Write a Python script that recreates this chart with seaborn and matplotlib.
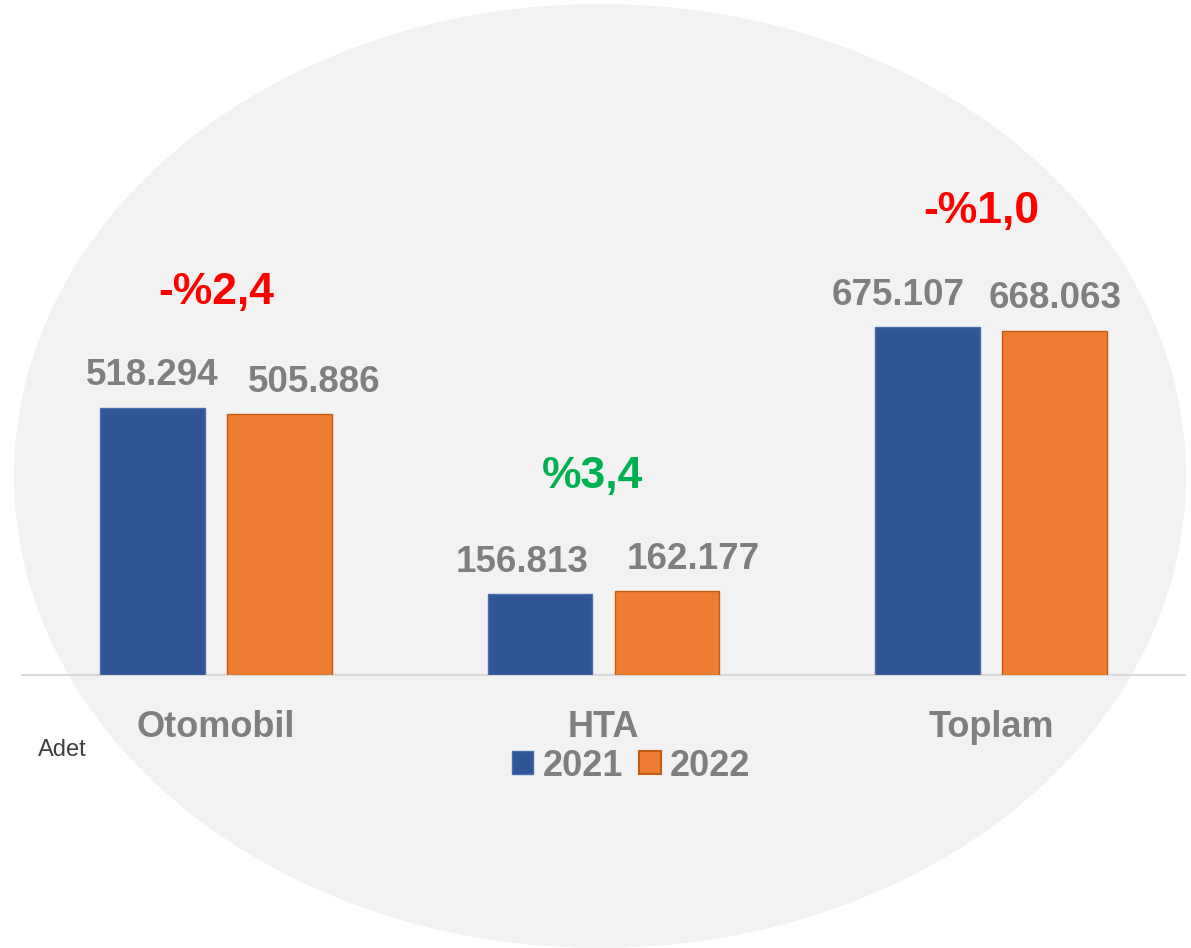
import numpy as np
import pandas as pd
import matplotlib
matplotlib.use("Agg")
import matplotlib.pyplot as plt
from matplotlib.patches import Ellipse, Patch
import seaborn as sns

# ---- data ----
categories = ["Otomobil", "HTA", "Toplam"]
years = ["2021", "2022"]
values_2021 = [518294, 156813, 675107]
values_2022 = [505886, 162177, 668063]

# ---- styling ----
BLUE = "#2F5597"
ORANGE = "#ED7D31"
BLUE_EDGE = "#4A6FB0"
ORANGE_EDGE = "#C55A11"
GRAY = "#7F7F7F"
RED = "#FF0000"
GREEN = "#00B050"

sns.set_theme(style="white")
plt.rcParams["font.family"] = ["Liberation Sans", "DejaVu Sans"]

df = pd.DataFrame({
    "Kategori": categories * 2,
    "Yil": [years[0]] * 3 + [years[1]] * 3,
    "Adet": values_2021 + values_2022,
})

W, H = 1191, 948
fig = plt.figure(figsize=(W / 100, H / 100), dpi=100)
fig.patch.set_facecolor("white")

# background axes holding the large light gray ellipse
bg = fig.add_axes([0, 0, 1, 1], zorder=0)
bg.set_xlim(0, W)
bg.set_ylim(H, 0)
bg.axis("off")
bg.add_patch(Ellipse((600, 476), 1172, 944, facecolor="#F2F2F2",
                     edgecolor="none"))

ax = fig.add_axes([22 / W, 1 - 675 / H, 1163 / W, 675 / H], zorder=2)
ax.set_facecolor("none")

sns.barplot(data=df, x="Kategori", y="Adet", hue="Yil", hue_order=years,
            palette=[BLUE, ORANGE], saturation=1, width=0.655, gap=0.175,
            ax=ax, legend=False, zorder=3)

edges = [BLUE_EDGE, ORANGE_EDGE]
for cont, ec in zip(ax.containers, edges):
    for p in cont:
        p.set_edgecolor(ec)
        p.set_linewidth(1.0)

ax.set_ylim(0, 1309500)
ax.set_xlim(-0.5, 2.5)

for side in ["top", "right", "left"]:
    ax.spines[side].set_visible(False)
ax.spines["bottom"].set_color("#D9D9D9")
ax.spines["bottom"].set_linewidth(1.5)
ax.set_yticks([])
ax.set_xlabel("")
ax.set_ylabel("")
ax.tick_params(axis="x", length=0, pad=25, labelsize=26, labelcolor=GRAY)
for lbl in ax.get_xticklabels():
    lbl.set_fontweight("bold")

# value labels (horizontal nudges in points, as placed in the original)
label_dx = [[0, -13, -21], [25, 19, 0]]
for ci, cont in enumerate(ax.containers):
    for bi, p in enumerate(cont):
        v = p.get_height()
        txt = f"{int(round(v)):,}".replace(",", ".")
        ax.annotate(txt, (p.get_x() + p.get_width() / 2, v),
                    xytext=(label_dx[ci][bi], 23), textcoords="offset points",
                    ha="center", va="center", fontsize=26.5,
                    fontweight="bold", color=GRAY, zorder=5)

# percentage change labels
pct_dx = [0, -8, -7]
for i in range(len(categories)):
    a, b = values_2021[i], values_2022[i]
    ch = (b - a) / a * 100
    sign = "-" if ch < 0 else ""
    txt = f"{sign}%{abs(ch):.1f}".replace(".", ",")
    col = RED if ch < 0 else GREEN
    ax.annotate(txt, (i, max(a, b)), xytext=(pct_dx[i], 83),
                textcoords="offset points", ha="center", va="center",
                fontsize=32, fontweight="bold", color=col, zorder=5)

# legend
handles = [Patch(facecolor=BLUE, edgecolor=BLUE_EDGE, linewidth=1.0),
           Patch(facecolor=ORANGE, edgecolor=ORANGE_EDGE, linewidth=1.5)]
leg = fig.legend(handles, years, loc="center", ncol=2,
                 bbox_to_anchor=(631 / W, 1 - 766 / H), frameon=False,
                 fontsize=26, handlelength=0.6, handleheight=0.6,
                 handletextpad=0.25, columnspacing=0.45, borderpad=0)
leg.set_zorder(4)
for t in leg.get_texts():
    t.set_color(GRAY)
    t.set_fontweight("bold")

# unit label
fig.text(38 / W, 1 - 750 / H, "Adet", ha="left", va="center",
         fontsize=17, color="#404040", zorder=4)

fig.savefig("out.png", dpi=100, facecolor="white")
